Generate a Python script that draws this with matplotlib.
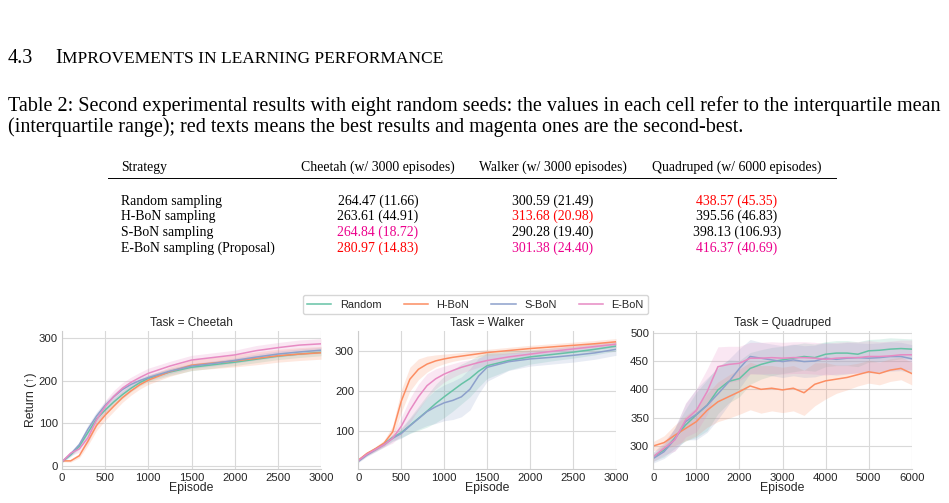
import numpy as np
import matplotlib
matplotlib.use("Agg")
import matplotlib.pyplot as plt
from matplotlib.lines import Line2D

# ---- Table values (text as printed in the paper) ----
strategies = ["Random sampling", "H-BoN sampling", "S-BoN sampling",
              "E-BoN sampling (Proposal)"]
table_headers = ["Cheetah (w/ 3000 episodes)", "Walker (w/ 3000 episodes)",
                 "Quadruped (w/ 6000 episodes)"]
cheetah_cells = ["264.47 (11.66)", "263.61 (44.91)", "264.84 (18.72)", "280.97 (14.83)"]
walker_cells = ["300.59 (21.49)", "313.68 (20.98)", "290.28 (19.40)", "301.38 (24.40)"]
quadruped_cells = ["438.57 (45.35)", "395.56 (46.83)", "398.13 (106.93)", "416.37 (40.69)"]
# rank of each cell: 1 = best (red), 2 = second best (magenta), 0 = plain
cheetah_rank = [0, 0, 2, 1]
walker_rank = [0, 1, 0, 2]
quadruped_rank = [1, 0, 0, 2]

# ---- Learning curves ----
series = ["Random", "H-BoN", "S-BoN", "E-BoN"]

cheetah_ep = [0, 100, 200, 300, 400, 500, 600, 700, 800, 900, 1000,
              1250, 1500, 1750, 2000, 2250, 2500, 2750, 3000]
cheetah_random = [10, 26, 46, 78, 110, 131, 150, 167, 182, 195, 205, 220, 231, 237, 243, 250, 257, 262, 266]
cheetah_hbon = [12, 12, 24, 58, 95, 119, 140, 160, 176, 190, 201, 221, 236, 241, 246, 252, 258, 262, 265]
cheetah_sbon = [10, 28, 50, 86, 117, 142, 162, 179, 191, 200, 207, 222, 234, 240, 247, 255, 262, 267, 271]
cheetah_ebon = [10, 30, 40, 66, 108, 139, 163, 182, 196, 207, 217, 234, 248, 254, 260, 270, 277, 283, 286]
cheetah_random_sd = [2, 4, 6, 8, 9, 9, 9, 9, 8, 8, 8, 8, 8, 8, 8, 8, 8, 8, 8]
cheetah_hbon_sd = [2, 3, 5, 10, 12, 12, 12, 11, 10, 10, 10, 11, 12, 13, 14, 15, 15, 15, 15]
cheetah_sbon_sd = [2, 4, 7, 10, 10, 9, 8, 8, 7, 7, 7, 6, 6, 6, 6, 7, 7, 7, 7]
cheetah_ebon_sd = [2, 5, 8, 12, 14, 14, 14, 13, 12, 12, 12, 11, 11, 11, 11, 12, 12, 12, 12]

walker_ep = [0, 100, 200, 300, 400, 500, 600, 700, 800, 900, 1000, 1100,
             1200, 1300, 1400, 1500, 1750, 2000, 2250, 2500, 2750, 3000]
walker_random = [26, 42, 55, 68, 84, 96, 114, 132, 150, 169, 186, 202, 218, 232, 250, 264, 277, 286, 292, 298, 305, 313]
walker_hbon = [27, 44, 56, 70, 98, 175, 230, 255, 268, 276, 281, 285, 288, 291, 294, 297, 302, 307, 311, 315, 319, 324]
walker_sbon = [24, 40, 53, 66, 82, 94, 113, 131, 149, 161, 171, 177, 186, 205, 238, 260, 274, 281, 285, 290, 296, 305]
walker_ebon = [26, 42, 54, 66, 82, 112, 152, 186, 214, 231, 243, 252, 260, 266, 272, 277, 286, 293, 300, 306, 312, 318]
walker_random_sd = [3, 4, 5, 6, 8, 12, 20, 30, 40, 48, 52, 52, 50, 46, 40, 32, 24, 18, 16, 15, 14, 12]
walker_hbon_sd = [3, 4, 5, 7, 15, 28, 30, 26, 20, 15, 12, 10, 9, 9, 8, 8, 8, 8, 8, 8, 8, 8]
walker_sbon_sd = [3, 4, 5, 6, 8, 12, 18, 26, 35, 42, 45, 48, 50, 52, 45, 35, 22, 18, 17, 17, 16, 15]
walker_ebon_sd = [3, 4, 5, 6, 12, 22, 30, 32, 30, 25, 20, 17, 15, 13, 12, 12, 10, 9, 9, 8, 8, 8]

quad_ep = [0, 250, 500, 750, 1000, 1250, 1500, 1750, 2000, 2250, 2500, 2750, 3000,
           3250, 3500, 3750, 4000, 4250, 4500, 4750, 5000, 5250, 5500, 5750, 6000]
quad_random = [281, 293, 314, 337, 355, 372, 399, 414, 419, 437, 444, 449, 452, 455, 458, 456, 462, 464, 464, 462, 468, 469, 471, 472, 471]
quad_hbon = [300, 306, 319, 331, 343, 363, 378, 387, 396, 406, 400, 402, 399, 402, 394, 409, 415, 418, 421, 426, 431, 428, 434, 437, 428]
quad_sbon = [278, 290, 312, 343, 356, 372, 392, 413, 437, 458, 455, 452, 449, 452, 449, 450, 455, 453, 455, 456, 455, 456, 458, 458, 454]
quad_ebon = [281, 296, 311, 346, 363, 396, 440, 444, 446, 455, 455, 456, 455, 456, 456, 455, 453, 455, 456, 456, 458, 458, 459, 461, 461]
quad_random_sd = [8, 12, 18, 28, 40, 45, 42, 38, 32, 28, 26, 25, 24, 24, 24, 24, 22, 22, 22, 22, 20, 20, 20, 18, 18]
quad_hbon_sd = [8, 12, 18, 22, 25, 30, 35, 38, 40, 42, 42, 40, 40, 40, 40, 38, 32, 25, 22, 20, 20, 20, 20, 20, 20]
quad_sbon_sd = [8, 12, 20, 32, 45, 48, 45, 40, 35, 30, 28, 28, 28, 28, 28, 28, 28, 28, 28, 26, 26, 26, 26, 25, 25]
quad_ebon_sd = [8, 12, 20, 30, 38, 40, 35, 32, 30, 28, 28, 28, 28, 28, 28, 28, 28, 28, 28, 28, 28, 26, 26, 26, 26]

colors = ["#66c2a5", "#fc8d62", "#8da0cb", "#e78ac3"]
rank_colors = {0: "black", 1: "#ff0000", 2: "#ec008c"}

W, H = 949, 503
SERIF = "Liberation Serif"
plt.rcParams["font.family"] = ["Liberation Sans", "DejaVu Sans"]

fig = plt.figure(figsize=(W / 100, H / 100), dpi=100)
renderer = fig.canvas.get_renderer()


def fx(x):
    return x / W


def fy(y):
    return 1 - y / H


def text_width(s, size, family):
    t = fig.text(0, 0, s, fontsize=size, family=family)
    w = t.get_window_extent(renderer).width
    t.remove()
    return w


def fit_size(s, width_px, family):
    return 10 * width_px / text_width(s, 10, family)


# ---- Section heading (small caps imitation) ----
cap_line1 = ("Table 2: Second experimental results with eight random seeds: "
             "the values in each cell refer to the interquartile mean")
cap_line2 = ("(interquartile range); red texts means the best results and "
             "magenta ones are the second-best.")
body_size = fit_size(cap_line1, 935, SERIF)

fig.text(fx(8), fy(63), "4.3", fontsize=body_size, family=SERIF)
fig.text(fx(55), fy(63), "I", fontsize=body_size, family=SERIF)
x_small = 55 + text_width("I", body_size, SERIF)
small_txt = "MPROVEMENTS IN LEARNING PERFORMANCE"
small_size = fit_size(small_txt, 442 - x_small, SERIF)
fig.text(fx(x_small), fy(63), small_txt, fontsize=small_size, family=SERIF)

# ---- Caption ----
fig.text(fx(8), fy(111), cap_line1, fontsize=body_size, family=SERIF)
fig.text(fx(8), fy(132), cap_line2, fontsize=body_size, family=SERIF)

# ---- Table ----
tab_size = fit_size(table_headers[0], 153, SERIF)
col_x = [378, 553, 737]
row_y = [205, 220, 236, 252]
fig.text(fx(121), fy(171), "Strategy", fontsize=tab_size, family=SERIF)
for cx, hdr in zip(col_x, table_headers):
    fig.text(fx(cx), fy(171), hdr, fontsize=tab_size, family=SERIF, ha="center")
fig.add_artist(Line2D([fx(108), fx(836)], [fy(177.5), fy(177.5)],
                      color="black", lw=0.7))
for i, name in enumerate(strategies):
    fig.text(fx(121), fy(row_y[i]), name, fontsize=tab_size, family=SERIF)
    for cx, cells, ranks in zip(col_x, [cheetah_cells, walker_cells, quadruped_cells],
                                [cheetah_rank, walker_rank, quadruped_rank]):
        fig.text(fx(cx), fy(row_y[i]), cells[i], fontsize=tab_size, family=SERIF,
                 ha="center", color=rank_colors[ranks[i]])

# ---- Learning curve panels ----
panels = [
    ("Cheetah", cheetah_ep,
     [cheetah_random, cheetah_hbon, cheetah_sbon, cheetah_ebon],
     [cheetah_random_sd, cheetah_hbon_sd, cheetah_sbon_sd, cheetah_ebon_sd],
     (62, 321), (-7, 316), [0, 100, 200, 300], np.arange(0, 3001, 500)),
    ("Walker", walker_ep,
     [walker_random, walker_hbon, walker_sbon, walker_ebon],
     [walker_random_sd, walker_hbon_sd, walker_sbon_sd, walker_ebon_sd],
     (358.3, 616), (5, 351), [100, 200, 300], np.arange(0, 3001, 500)),
    ("Quadruped", quad_ep,
     [quad_random, quad_hbon, quad_sbon, quad_ebon],
     [quad_random_sd, quad_hbon_sd, quad_sbon_sd, quad_ebon_sd],
     (653.3, 911.7), (259.4, 503), [300, 350, 400, 450, 500], np.arange(0, 6001, 1000)),
]
ax_top, ax_bot = 331, 469

for k, (task, ep, means, sds, (xl, xr), ylim, yticks, xticks) in enumerate(panels):
    ax = fig.add_axes([fx(xl), fy(ax_bot), (xr - xl) / W, (ax_bot - ax_top) / H])
    ep = np.asarray(ep)
    for m, s, c in zip(means, sds, colors):
        m, s = np.asarray(m, float), np.asarray(s, float)
        ax.fill_between(ep, m - s, m + s, color=c, alpha=0.2, lw=0)
    for m, c in zip(means, colors):
        ax.plot(ep, m, color=c, lw=1.1)
    ax.set_xlim(0, ep[-1])
    ax.set_ylim(*ylim)
    ax.set_xticks(xticks)
    ax.set_yticks(yticks)
    ax.grid(True, color=".85", lw=0.8)
    ax.set_axisbelow(True)
    for sp in ["top", "right"]:
        ax.spines[sp].set_visible(False)
    for sp in ["left", "bottom"]:
        ax.spines[sp].set_color(".8")
        ax.spines[sp].set_linewidth(0.8)
    ax.tick_params(length=0, labelsize=8.2, colors=".15", pad=3)
    ax.set_title(f"Task = {task}", fontsize=8.6, color=".15", pad=3.5)
    ax.set_xlabel("Episode", fontsize=8.8, color=".15", labelpad=-1)
    if k == 0:
        ax.set_ylabel("Return (↑)", fontsize=8.8, color=".15", labelpad=1)

handles = [Line2D([], [], color=c, lw=1.1) for c in colors]
leg = fig.legend(handles, series, loc="center", ncol=4, fontsize=7.9,
                 bbox_to_anchor=(fx(475.5), fy(304.5)), frameon=True,
                 fancybox=True, edgecolor=".8", borderpad=0.4,
                 handlelength=2.2, columnspacing=2.0)
for t in leg.get_texts():
    t.set_color(".15")

fig.savefig("out.png", dpi=100)
